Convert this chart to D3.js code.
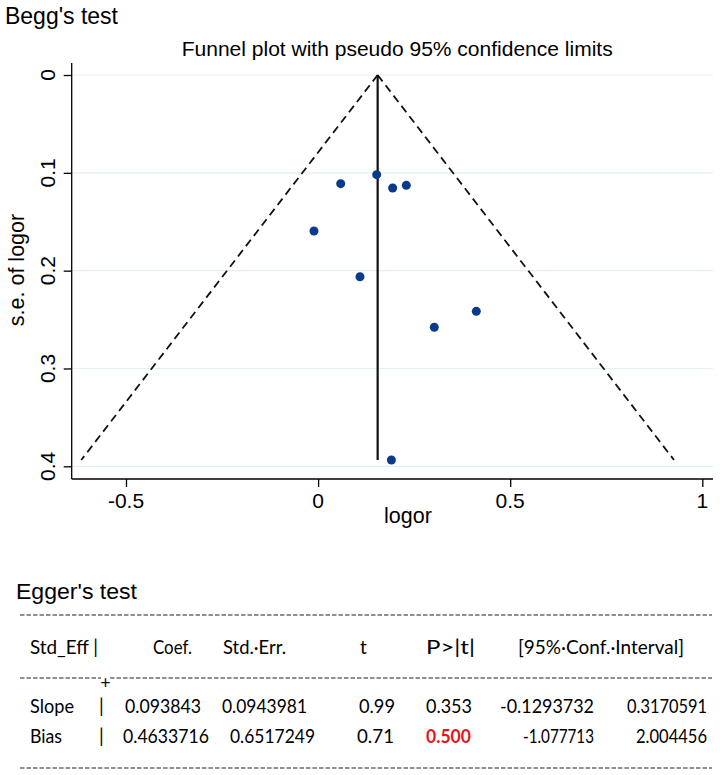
<!DOCTYPE html>
<html><head><meta charset="utf-8">
<script src="https://cdn.jsdelivr.net/npm/d3@7"></script>
<style>body{margin:0;background:#fff}svg{display:block}</style>
</head><body>
<svg id="c" width="720" height="775"></svg>
<script>
// ---- data ----
const logor = [0.1525, 0.0588, 0.194, 0.2296, -0.0107, 0.109, 0.4118, 0.3024, 0.1908];
const seLogor = [0.1019, 0.1111, 0.1155, 0.1128, 0.1595, 0.2062, 0.2416, 0.2579, 0.3936];
const pooledLogor = 0.155;
const zValue = 1.96;
const xTicks = [-0.5, 0, 0.5, 1];
const yTicks = [0, 0.1, 0.2, 0.3, 0.4];
const xTickLabels = ["-0.5", "0", "0.5", "1"];
const yTickLabels = ["0", "0.1", "0.2", "0.3", "0.4"];

const eggerHeader = ["Std_Eff |", "Coef.", "Std.\u00b7Err.", "t", "P>|t|", "[95%\u00b7Conf.\u00b7Interval]"];
const eggerRowNames = ["Slope", "Bias"];
const eggerCoef = ["0.093843", "0.4633716"];
const eggerStdErr = ["0.0943981", "0.6517249"];
const eggerT = ["0.99", "0.71"];
const eggerP = ["0.353", "0.500"];
const eggerCILow = ["-0.1293732", "-1.077713"];
const eggerCIHigh = ["0.3170591", "2.004456"];

// ---- layout ----
const svg = d3.select("#c");
const x = d3.scaleLinear().domain([-0.5, 1]).range([126, 702.3]);
const y = d3.scaleLinear().domain([0, 0.4]).range([75, 466.3]);
const axisX0 = 71.7, axisX1 = 713, axisYTop = 63, axisYBot = 479;
const sans = "'Liberation Sans', Arial, sans-serif";

svg.append("text").attr("x", 5).attr("y", 24).attr("font-family", sans)
  .attr("font-size", 23.5).attr("textLength", 113).attr("lengthAdjust", "spacingAndGlyphs")
  .text("Begg's test");

svg.append("text").attr("x", 181.7).attr("y", 55.5).attr("font-family", sans)
  .attr("font-size", 20.5).attr("textLength", 431).attr("lengthAdjust", "spacingAndGlyphs")
  .text("Funnel plot with pseudo 95% confidence limits");

// gridlines
svg.append("g").selectAll("line").data(yTicks).join("line")
  .attr("x1", axisX0).attr("x2", axisX1)
  .attr("y1", d => y(d)).attr("y2", d => y(d))
  .attr("stroke", "#e3f0f0").attr("stroke-width", 1.2);

// y axis
const gy = svg.append("g").attr("transform", `translate(${axisX0},0)`)
  .call(d3.axisLeft(y).tickValues(yTicks).tickSize(8).tickFormat(""));
gy.select(".domain").remove();
gy.selectAll(".tick line").attr("stroke", "#000").attr("stroke-width", 1.3);
svg.append("line").attr("x1", axisX0).attr("x2", axisX0).attr("y1", axisYTop).attr("y2", axisYBot)
  .attr("stroke", "#000").attr("stroke-width", 1.3);
svg.append("g").selectAll("text").data(yTicks).join("text")
  .attr("transform", d => `translate(55,${y(d)}) rotate(-90)`)
  .attr("text-anchor", "middle").attr("font-family", sans).attr("font-size", 21)
  .text((d, i) => yTickLabels[i]);
svg.append("text").attr("transform", `translate(24,270) rotate(-90)`)
  .attr("text-anchor", "middle").attr("font-family", sans).attr("font-size", 21.5)
  .text("s.e. of logor");

// x axis
const gx = svg.append("g").attr("transform", `translate(0,${axisYBot})`)
  .call(d3.axisBottom(x).tickValues(xTicks).tickSize(8).tickFormat(""));
gx.select(".domain").remove();
gx.selectAll(".tick line").attr("stroke", "#000").attr("stroke-width", 1.3);
svg.append("line").attr("x1", axisX0).attr("x2", axisX1).attr("y1", axisYBot).attr("y2", axisYBot)
  .attr("stroke", "#000").attr("stroke-width", 1.3);
svg.append("g").selectAll("text").data(xTicks).join("text")
  .attr("x", d => x(d)).attr("y", 508).attr("text-anchor", "middle")
  .attr("font-family", sans).attr("font-size", 21)
  .text((d, i) => xTickLabels[i]);
svg.append("text").attr("x", 408).attr("y", 523).attr("text-anchor", "middle")
  .attr("font-family", sans).attr("font-size", 21.5).text("logor");

// funnel
const seMax = d3.max(seLogor);
const line = d3.line().x(d => x(d[0])).y(d => y(d[1]));
const funnel = [
  [[pooledLogor, 0], [pooledLogor - zValue * seMax, seMax]],
  [[pooledLogor, 0], [pooledLogor + zValue * seMax, seMax]]
];
svg.append("g").selectAll("path").data(funnel).join("path")
  .attr("d", line).attr("fill", "none").attr("stroke", "#111")
  .attr("stroke-width", 1.8).attr("stroke-dasharray", "8,5");
svg.append("path").attr("d", line([[pooledLogor, 0], [pooledLogor, seMax]]))
  .attr("fill", "none").attr("stroke", "#111").attr("stroke-width", 2.2);

// points
svg.append("g").selectAll("circle").data(logor).join("circle")
  .attr("cx", d => x(d)).attr("cy", (d, i) => y(seLogor[i])).attr("r", 4.5)
  .attr("fill", "#0b3a8c");

// ---- Egger's table ----
svg.append("text").attr("x", 16).attr("y", 599).attr("font-family", sans)
  .attr("font-size", 22).attr("textLength", 121).attr("lengthAdjust", "spacingAndGlyphs")
  .text("Egger's test");

const tFont = "Lato, 'Open Sans', sans-serif";
const dash = (y0, xa, xb) => svg.append("line").attr("x1", xa).attr("x2", xb).attr("y1", y0).attr("y2", y0)
  .attr("stroke", "#222").attr("stroke-width", 1.2).attr("stroke-dasharray", "4.5,2");
dash(615, 20, 712);
dash(678, 20, 101);
dash(678, 110, 712);
svg.append("text").attr("x", 105.5).attr("y", 684).attr("text-anchor", "middle")
  .attr("dominant-baseline", "central").attr("dy", "-2")
  .attr("font-family", tFont).attr("font-size", 18).attr("fill", "#111").text("+");
dash(768, 20, 712);

// [x, width] per cell
const headerLayout = [[30, 68], [153, 39], [223, 63], [360, 6], [426, 49], [518, 166]];
const rowLayout = [
  [[30, 44], [99, 3], [125, 76], [222, 85], [359, 36], [426, 46], [500, 94], [627, 80]],
  [[30, 32], [99, 3], [123, 86], [230, 85], [357, 37], [426, 45], [523, 71], [636, 71]]
];
const rowY = [713, 743];

function cell(txt, lay, yy, fill, weight) {
  const t = svg.append("text").attr("x", lay[0]).attr("y", yy)
    .attr("font-family", tFont).attr("font-size", 19)
    .attr("fill", fill || "#000").attr("font-weight", weight || "normal").text(txt);
  if (lay[1] > 8) t.attr("textLength", lay[1]).attr("lengthAdjust", "spacingAndGlyphs");
  return t;
}
eggerHeader.forEach((h, i) => cell(h, headerLayout[i], 654));
eggerRowNames.forEach((name, r) => {
  const vals = [name, "|", eggerCoef[r], eggerStdErr[r], eggerT[r], eggerP[r], eggerCILow[r], eggerCIHigh[r]];
  vals.forEach((v, c) => {
    const isRed = (name === "Bias" && c === 5);
    cell(v, rowLayout[r][c], rowY[r], isRed ? "#e8141c" : "#000", isRed ? "bold" : "normal");
  });
});
</script>
</body></html>
